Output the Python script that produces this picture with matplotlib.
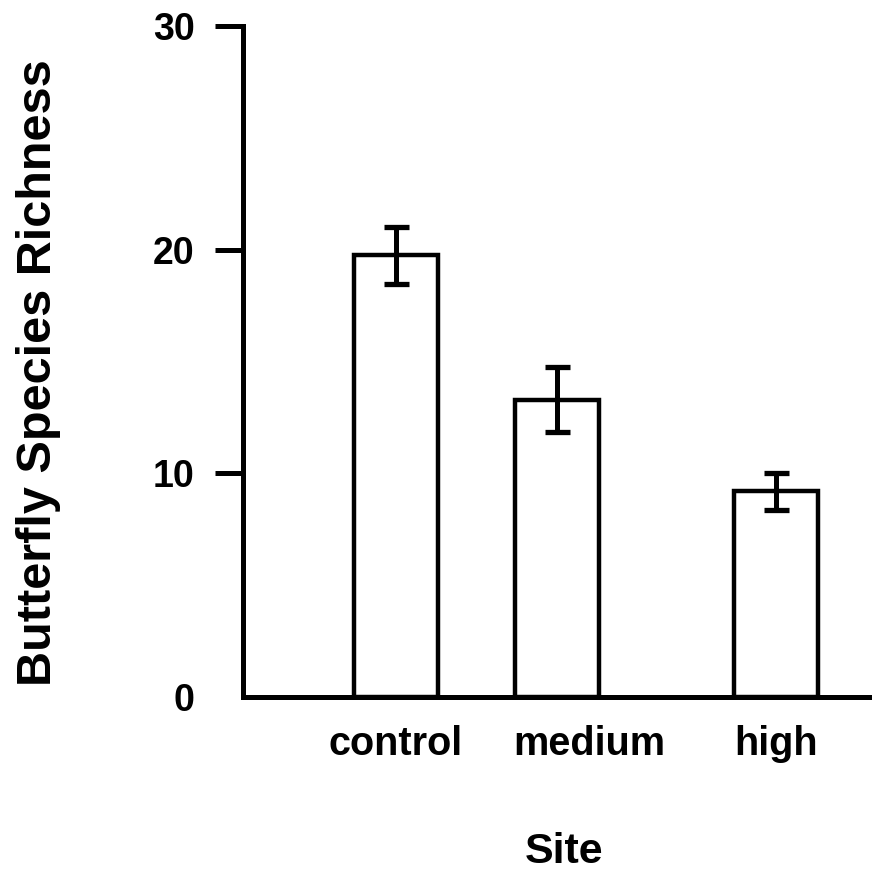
import numpy as np
import matplotlib.pyplot as plt

# data
sites = ["control", "medium", "high"]
richness = [19.75, 13.3, 9.2]
sem = [1.27, 1.47, 0.83]
bar_pos = [1.0, 2.0, 3.36]
label_pos = [1.0, 2.2, 3.36]

plt.rcParams['font.family'] = ['Liberation Sans', 'DejaVu Sans']
plt.rcParams['font.weight'] = 'bold'

fig = plt.figure(figsize=(8.72, 8.74), dpi=100)
ax = fig.add_axes([0.2787, 0.2025, 0.7213, 0.7678])

ax.bar(bar_pos, richness, width=0.52, color='white', edgecolor='black', linewidth=3.2, zorder=2)
ax.errorbar(bar_pos, richness, yerr=sem, fmt='none', ecolor='black',
            elinewidth=3.6, capsize=9, capthick=3.8, zorder=3)

ax.set_xlim(0.05, 3.957)
ax.set_ylim(0, 30)
ax.set_yticks([0, 10, 20, 30])
ax.set_xticks(label_pos, labels=sites)

for s in ['top', 'right']:
    ax.spines[s].set_visible(False)
for s in ['left', 'bottom']:
    ax.spines[s].set_linewidth(3.6)
    ax.spines[s].set_capstyle('projecting')

ax.tick_params(axis='y', length=20, width=3.6, pad=15, labelsize=27)
ax.tick_params(axis='x', length=0, pad=20, labelsize=28.5)
ax.yaxis.get_major_ticks()[0].tick1line.set_visible(False)

ax.set_ylabel('Butterfly Species Richness', fontsize=35, fontweight='bold')
ax.yaxis.set_label_coords(-0.29, 0.483)
ax.set_xlabel('Site', fontsize=31, fontweight='bold')
ax.xaxis.label.set_va('center')
ax.xaxis.set_label_coords(0.51, -0.231)

fig.savefig('out.png', dpi=100)
